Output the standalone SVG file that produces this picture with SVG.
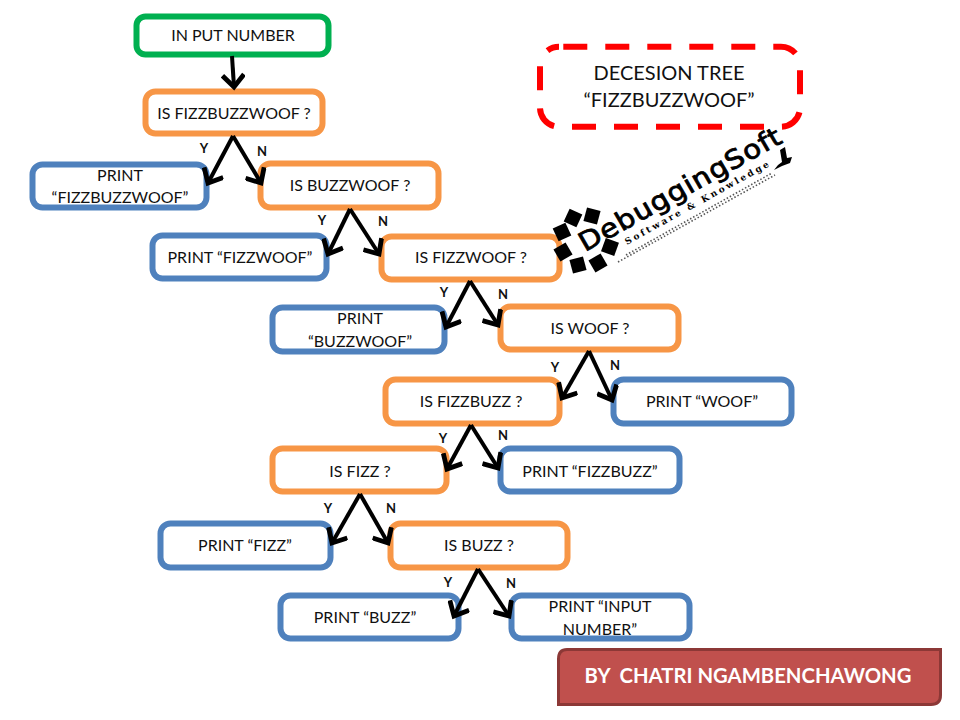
<svg xmlns="http://www.w3.org/2000/svg" width="960" height="720" viewBox="0 0 960 720">
<style>
text{font-family:"Lato","Open Sans","Liberation Sans",sans-serif;font-size:16px;fill:#111;text-anchor:middle}
rect.n{fill:#fff;stroke-width:6}
.g{stroke:#00b050}.o{stroke:#f79646}.b{stroke:#4f81bd}
.l{font-weight:700;font-size:13px;fill:#111}
#conn path{fill:none;stroke:#000;stroke-width:4;marker-end:url(#a)}
</style>
<defs><marker id="a" markerUnits="userSpaceOnUse" markerWidth="24" markerHeight="24" refX="14" refY="10" orient="auto" viewBox="0 0 20 20"><path d="M4 1L14 10L4 19" fill="none" stroke="#000" stroke-width="4"/></marker></defs>
<g id="n1"><rect class="n g" x="136.500" y="16.500" width="192" height="38" rx="9"/><text x="233" y="41">IN PUT NUMBER</text></g>
<g id="n2"><rect class="n o" x="145.500" y="91.500" width="177" height="42" rx="10"/><text x="234" y="119">IS FIZZBUZZWOOF ?</text></g>
<g id="n3"><rect class="n b" x="32.500" y="164.500" width="174" height="43" rx="10"/><text x="120" y="181">PRINT</text><text x="120" y="203">“FIZZBUZZWOOF”</text></g>
<g id="n4"><rect class="n o" x="260.500" y="163.500" width="178" height="44" rx="10"/><text x="350" y="191">IS BUZZWOOF ?</text></g>
<g id="n5"><rect class="n b" x="152.500" y="235.500" width="174" height="43" rx="10"/><text x="240" y="263">PRINT “FIZZWOOF”</text></g>
<g id="n6"><rect class="n o" x="381.500" y="236.500" width="178" height="43" rx="10"/><text x="471" y="263">IS FIZZWOOF ?</text></g>
<g id="n7"><rect class="n b" x="272.500" y="307.500" width="172" height="44" rx="10"/><text x="360" y="324">PRINT</text><text x="360" y="347">“BUZZWOOF”</text></g>
<g id="n8"><rect class="n o" x="500.500" y="306.500" width="178" height="43" rx="10"/><text x="590" y="334">IS WOOF ?</text></g>
<g id="n9"><rect class="n o" x="385.500" y="379.500" width="174" height="44" rx="10"/><text x="471" y="407">IS FIZZBUZZ ?</text></g>
<g id="n10"><rect class="n b" x="613.500" y="379.500" width="178" height="44" rx="10"/><text x="702" y="407">PRINT “WOOF”</text></g>
<g id="n11"><rect class="n o" x="272.500" y="448.500" width="174" height="43" rx="10"/><text x="360" y="477">IS FIZZ ?</text></g>
<g id="n12"><rect class="n b" x="500.500" y="448.500" width="179" height="43" rx="10"/><text x="590" y="477">PRINT “FIZZBUZZ”</text></g>
<g id="n13"><rect class="n b" x="160.500" y="523.500" width="170" height="44" rx="10"/><text x="245" y="551">PRINT “FIZZ”</text></g>
<g id="n14"><rect class="n o" x="390.500" y="523.500" width="177" height="44" rx="10"/><text x="479" y="551">IS BUZZ ?</text></g>
<g id="n15"><rect class="n b" x="280.500" y="595.500" width="178" height="43" rx="10"/><text x="365" y="623">PRINT “BUZZ”</text></g>
<g id="n16"><rect class="n b" x="511.500" y="595.500" width="178" height="43" rx="10"/><text x="600" y="612">PRINT “INPUT</text><text x="600" y="635">NUMBER”</text></g>
<g id="title"><rect x="540" y="46.700" width="260" height="80" rx="19" fill="#fff" stroke="#f00" stroke-width="6" stroke-dasharray="24 18" stroke-dashoffset="-4.300"/><text x="669" y="80" style="font-size:20px">DECESION TREE</text><text x="669" y="107" style="font-size:20px">“FIZZBUZZWOOF”</text></g>
<g id="by"><path d="M567 649.500H940.500V695Q940.500 704.500 931 704.500H558.500V659Q558.500 649.500 567 649.500Z" fill="#c0504d" stroke="#8c3836" stroke-width="3"/><text x="748" y="683" xml:space="preserve" style="font-size:20.300px;font-weight:700;fill:#fff">BY  CHATRI NGAMBENCHAWONG</text></g>
<g id="logo">
<g fill="#000">
<rect x="566" y="211" width="14" height="14" transform="rotate(25 573 218)"/>
<rect x="585" y="209" width="14" height="14" transform="rotate(15 592 216)"/>
<rect x="555" y="225" width="14" height="14" transform="rotate(-25 562 232)"/>
<rect x="556" y="245" width="14" height="14" transform="rotate(-30 563 252)"/>
<rect x="571" y="258" width="14" height="14" transform="rotate(-15 578 265)"/>
<rect x="591" y="256" width="14" height="14" transform="rotate(-30 598 263)"/>
<rect x="603" y="240" width="14" height="14" transform="rotate(20 610 247)"/>
</g>
<text transform="matrix(.875 -.484 .45 .78 585 252)" textLength="227" style="font-family:'DejaVu Sans',sans-serif;font-size:29px;text-anchor:start;fill:#000;stroke:#000;stroke-width:.9">DebuggingSoft</text>
<text transform="matrix(.875 -.484 .484 .875 627 245)" textLength="163" style="font-family:'DejaVu Serif',serif;font-size:9px;font-weight:700;text-anchor:start;fill:#000">Software &amp; Knowledge</text>
<path d="M626 255L772 173M618 262L775 175" stroke="#555" stroke-width="1.600" stroke-dasharray="1.500 2" fill="none"/>
<path d="M780 150L785 147L787 158L792 157L790 163L782 166L774 170L778 165L782 162Z" fill="#000"/>
</g>
<g id="conn">
<path d="M232 56L234 87"/>
<path d="M233 136L208 183"/><path d="M233 136L261 183"/>
<path d="M350 209L328 254"/><path d="M350 209L379 254"/>
<path d="M470 281L446 327"/><path d="M470 281L498 325"/>
<path d="M589 351L562 398"/><path d="M589 351L612 400"/>
<path d="M471 425L447 469"/><path d="M471 425L498 468"/>
<path d="M360 494L332 543"/><path d="M360 494L388 543"/>
<path d="M478 569L454 616"/><path d="M478 569L509 616"/>
</g>
<g id="labels">
<text class="l" x="204" y="153">Y</text><text class="l" x="262" y="156">N</text>
<text class="l" x="322" y="225">Y</text><text class="l" x="383" y="226">N</text>
<text class="l" x="444" y="297">Y</text><text class="l" x="503" y="299">N</text>
<text class="l" x="555" y="372">Y</text><text class="l" x="615" y="370">N</text>
<text class="l" x="443" y="443">Y</text><text class="l" x="503" y="440">N</text>
<text class="l" x="328" y="513">Y</text><text class="l" x="391" y="513">N</text>
<text class="l" x="448" y="587">Y</text><text class="l" x="511" y="588">N</text>
</g>
</svg>
